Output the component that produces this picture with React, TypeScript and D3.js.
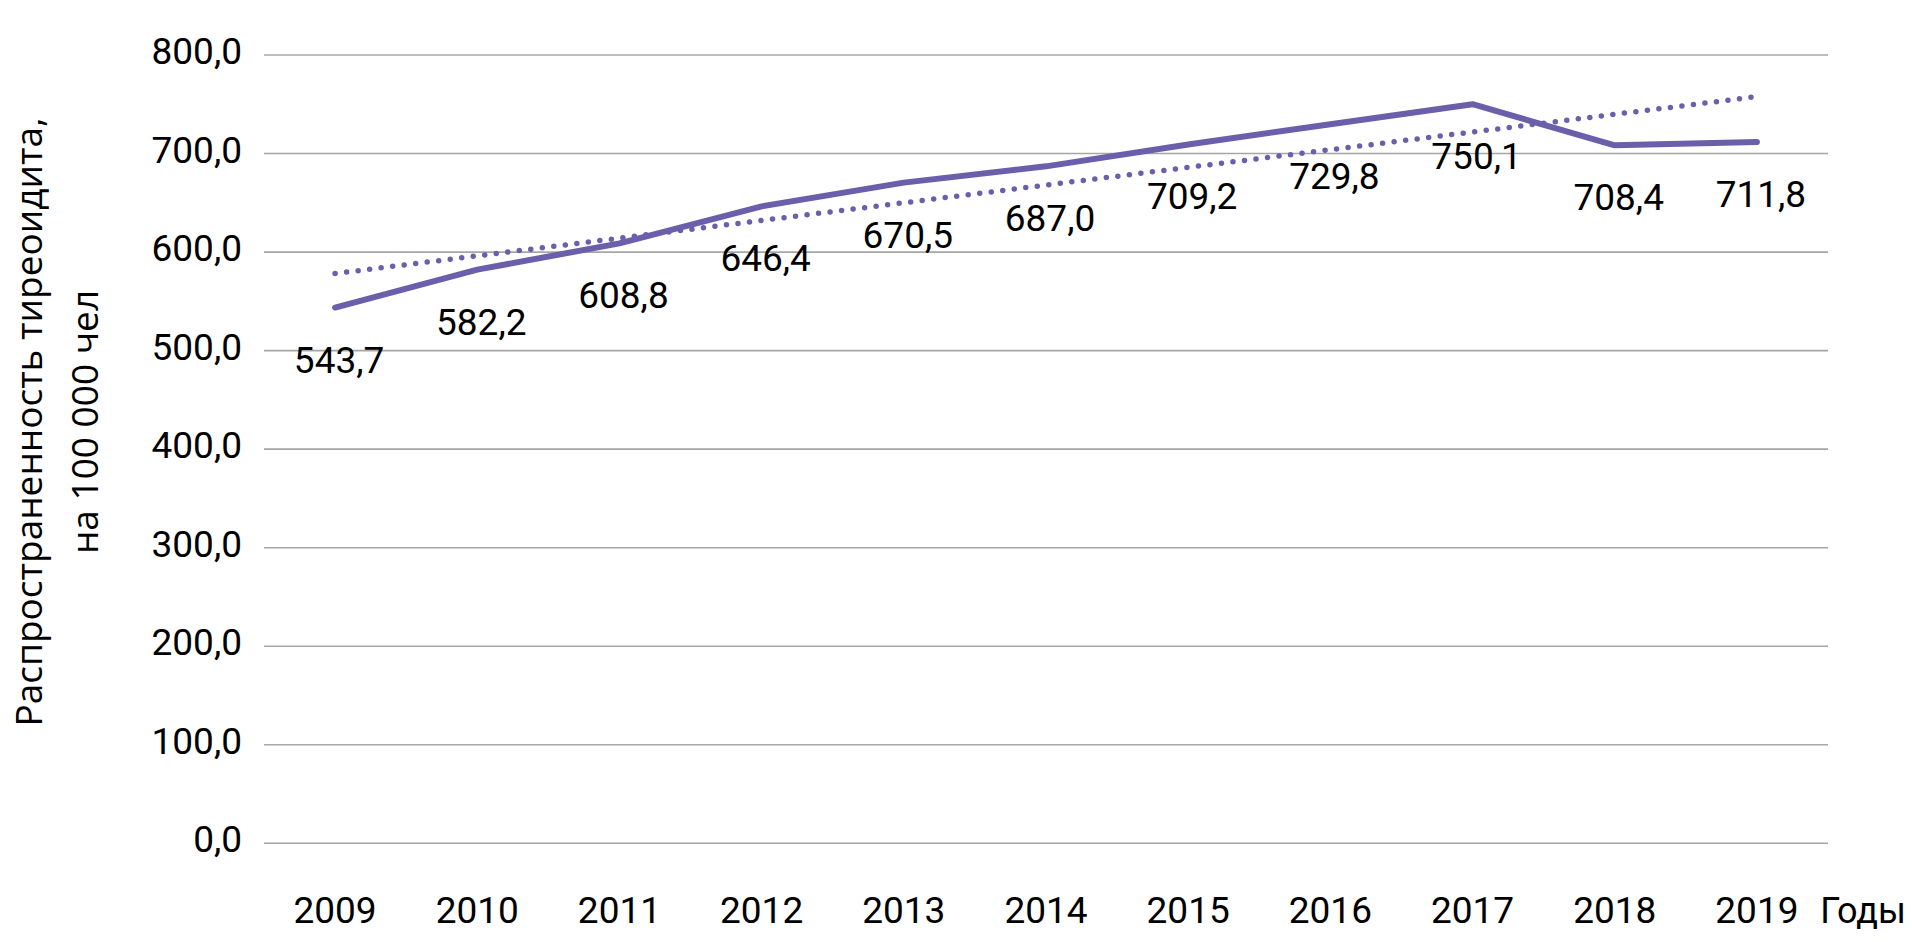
import React, { useEffect, useRef } from "react";
import * as d3 from "d3";

const years: string[] = ["2009", "2010", "2011", "2012", "2013", "2014", "2015", "2016", "2017", "2018", "2019"];
const prevalence: number[] = [543.7, 582.2, 608.8, 646.4, 670.5, 687.0, 709.2, 729.8, 750.1, 708.4, 711.8];
const yTicks: number[] = [0, 100, 200, 300, 400, 500, 600, 700, 800];
const yTitleLines: string[] = ["Распространенность тиреоидита,", "на 100 000 чел"];
const xTitle = "Годы";

const W = 1912;
const H = 942;
const COLOR = "#6B5FAB";
const FONT = "Roboto, 'Liberation Sans', sans-serif";

const fmt = (v: number) => v.toFixed(1).replace(".", ",");

export default function App() {
  const ref = useRef<SVGSVGElement | null>(null);

  useEffect(() => {
    const svg = d3.select(ref.current);
    svg.selectAll("*").remove();

    const plotLeft = 264;
    const plotRight = 1828;
    const x = d3.scaleBand<string>().domain(years).range([plotLeft, plotRight]).padding(0);
    const cx = (yr: string) => (x(yr) as number) + x.bandwidth() / 2;
    const y = d3.scaleLinear().domain([0, 800]).range([843.3, 55]);

    // gridlines
    svg.append("g")
      .selectAll("line")
      .data(yTicks)
      .join("line")
      .attr("x1", plotLeft)
      .attr("x2", plotRight)
      .attr("y1", (d) => y(d))
      .attr("y2", (d) => y(d))
      .attr("stroke", "#A6A6A6")
      .attr("stroke-width", 1.6);

    // y tick labels
    svg.append("g")
      .selectAll("text")
      .data(yTicks)
      .join("text")
      .attr("x", 242)
      .attr("y", (d) => y(d) + 9)
      .attr("text-anchor", "end")
      .attr("font-family", FONT)
      .attr("font-size", 37)
      .attr("fill", "#000")
      .text((d) => fmt(d));

    // x tick labels
    svg.append("g")
      .selectAll("text")
      .data(years)
      .join("text")
      .attr("x", (d) => cx(d))
      .attr("y", 923)
      .attr("text-anchor", "middle")
      .attr("font-family", FONT)
      .attr("font-size", 37)
      .attr("fill", "#000")
      .text((d) => d);

    svg.append("text")
      .attr("x", 1906)
      .attr("y", 923)
      .attr("text-anchor", "end")
      .attr("font-family", FONT)
      .attr("font-size", 36)
      .attr("fill", "#000")
      .text(xTitle);

    // trend line (linear least squares)
    const idx = prevalence.map((_, i) => i);
    const mx = d3.mean(idx) as number;
    const my = d3.mean(prevalence) as number;
    const sxy = d3.sum(idx, (i) => (i - mx) * (prevalence[i] - my));
    const sxx = d3.sum(idx, (i) => (i - mx) * (i - mx));
    const slope = sxy / sxx;
    const icpt = my - slope * mx;
    const trend = years.map((yr, i) => ({ yr, v: icpt + slope * i }));

    const line = d3.line<{ yr: string; v: number }>().x((d) => cx(d.yr)).y((d) => y(d.v));

    svg.append("path")
      .datum([trend[0], trend[trend.length - 1]])
      .attr("d", line)
      .attr("fill", "none")
      .attr("stroke", COLOR)
      .attr("stroke-width", 5.5)
      .attr("stroke-linecap", "round")
      .attr("stroke-dasharray", "0 11.6");

    const series = years.map((yr, i) => ({ yr, v: prevalence[i] }));
    svg.append("path")
      .datum(series)
      .attr("d", line)
      .attr("fill", "none")
      .attr("stroke", COLOR)
      .attr("stroke-width", 6)
      .attr("stroke-linecap", "round")
      .attr("stroke-linejoin", "round");

    // data labels
    svg.append("g")
      .selectAll("text")
      .data(series)
      .join("text")
      .attr("x", (d) => cx(d.yr) + 4)
      .attr("y", (d) => y(d.v) + 65)
      .attr("text-anchor", "middle")
      .attr("font-family", FONT)
      .attr("font-size", 37)
      .attr("fill", "#000")
      .text((d) => fmt(d.v));

    // y axis title
    const t = svg.append("text")
      .attr("transform", "translate(0,422) rotate(-90)")
      .attr("text-anchor", "middle")
      .attr("font-family", "'Open Sans', 'Noto Sans', sans-serif")
      .attr("font-size", 37)
      .attr("fill", "#000");
    yTitleLines.forEach((s, i) => {
      t.append("tspan").attr("x", 0).attr("y", i === 0 ? 42 : 98).text(s);
    });
  }, []);

  return (
    <svg
      ref={ref}
      width={W}
      height={H}
      style={{ position: "absolute", left: 0, top: 0, background: "#fff" }}
    />
  );
}
